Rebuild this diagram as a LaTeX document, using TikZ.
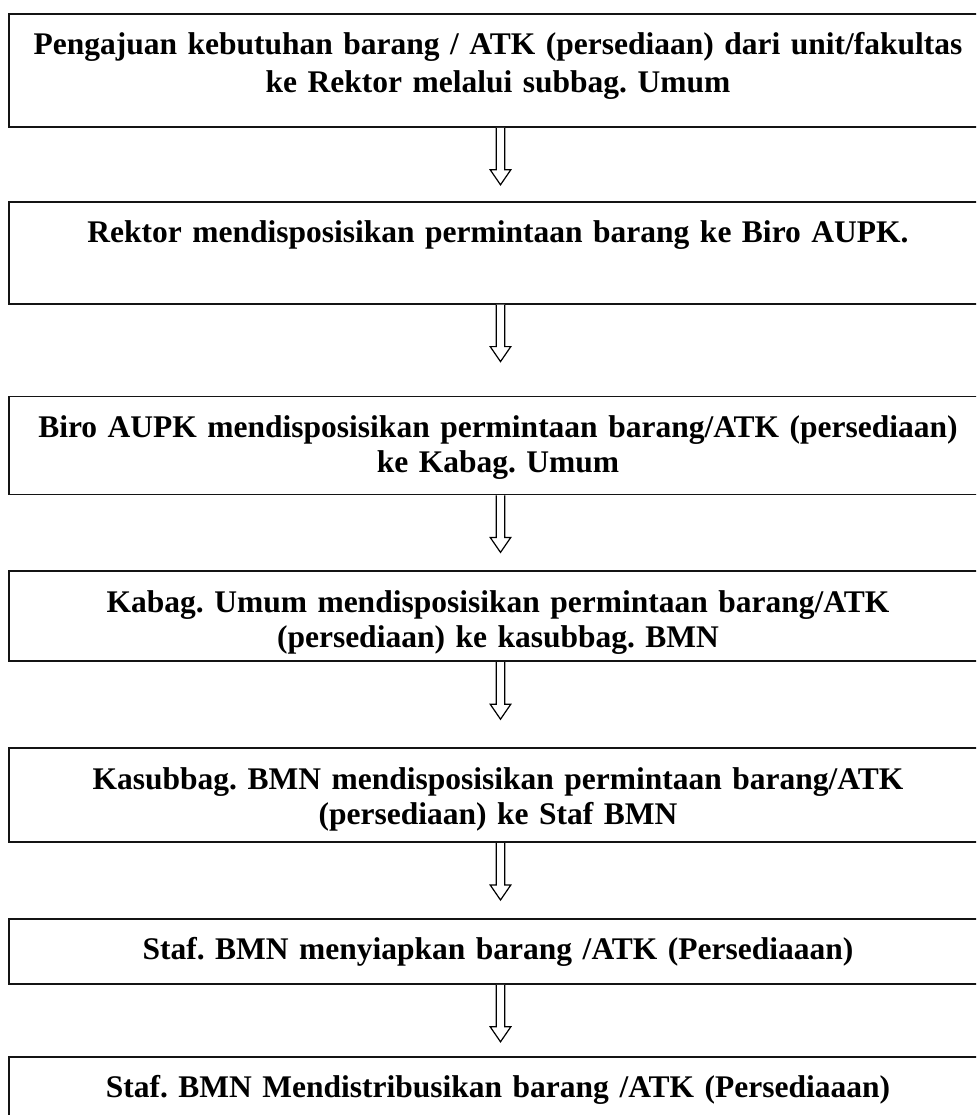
\documentclass[tikz,border=0pt]{standalone}
\usepackage{fontspec}
\setmainfont{Liberation Serif}
\usepackage{tikz}
\usetikzlibrary{positioning,calc}
\definecolor{inkline}{RGB}{20,20,20}
\frenchspacing
\tikzset{
  % ---- process boxes ----------------------------------------------------
  box/.style={
    rectangle, draw=inkline, line width=1.8pt, fill=white,
    font=\fontsize{31.5}{35}\selectfont\bfseries, align=center,
    text width=978pt, inner sep=0pt, text height=41pt, anchor=north},
  boxw/.style={box, font=\fontsize{31.5}{38}\selectfont\bfseries},
  % ---- hollow arrows ----------------------------------------------------
  ar/.style={draw=black, line width=1.2pt, fill=white, line join=miter},
}
\newcommand{\flowar}[1]{%
  \draw[ar] ($(#1.south)+(-1.8,0)$) -- ++(0,-42) -- ++(-6,0)
    -- ($(#1.south)+(2.5,-57)$) coordinate (#1tip)
    -- ($(#1.south)+(12.8,-42)$) -- ++(-6,0) -- ++(0,42);}

\begin{document}
\begin{tikzpicture}[x=1pt,y=1pt]
\useasboundingbox (0,0) rectangle (976,-1115);
\clip (0,0) rectangle (976,-1115);

% ---- steps ------------------------------------------------------------------
\node[boxw, text depth=72pt] (aju) at (498,-13)
  {Pengajuan kebutuhan barang / ATK (persediaan) dari unit/fakultas\\
   ke Rektor melalui subbag. Umum};
\node[box, text depth=61pt, below=73pt of aju] (rektor)
  {Rektor mendisposisikan permintaan barang ke Biro AUPK.};
\node[box, text depth=57pt, below=91pt of rektor] (biro)
  {Biro AUPK mendisposisikan permintaan barang/ATK (persediaan)\\
   ke Kabag. Umum};
\node[box, text depth=49pt, below=75pt of biro] (kabag)
  {Kabag. Umum mendisposisikan permintaan barang/ATK\\
   (persediaan) ke kasubbag. BMN};
\node[box, text depth=53pt, below=85pt of kabag] (kasub)
  {Kasubbag. BMN mendisposisikan permintaan barang/ATK\\
   (persediaan) ke Staf BMN};
\node[box, text depth=24pt, below=75pt of kasub] (siap)
  {Staf. BMN menyiapkan barang /ATK (Persediaaan)};
\node[box, text depth=60pt, below=71pt of siap] (distr)
  {Staf. BMN Mendistribusikan barang /ATK (Persediaaan)};

% ---- arrows -----------------------------------------------------------------
\flowar{aju}
\flowar{rektor}
\flowar{biro}
\flowar{kabag}
\flowar{kasub}
\flowar{siap}

\end{tikzpicture}
\end{document}
